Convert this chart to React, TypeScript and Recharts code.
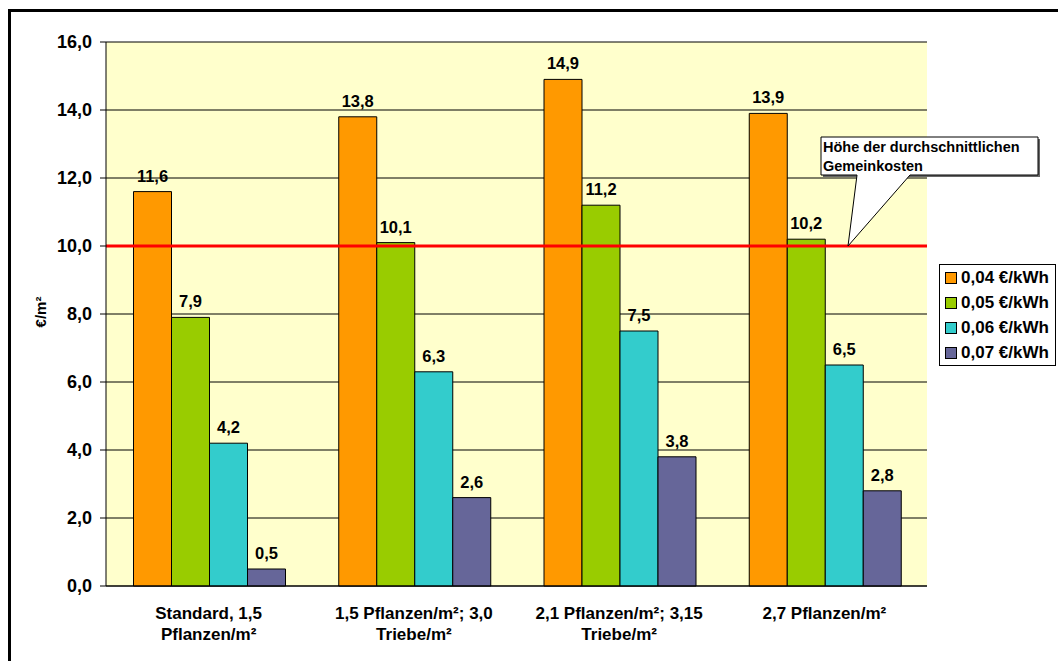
import React from 'react';
import { BarChart, Bar, XAxis, YAxis, CartesianGrid, ReferenceLine, LabelList, Legend } from 'recharts';

// Planting variants (x categories), split into the lines shown under the axis
const categoryLines: string[][] = [
  ['Standard, 1,5', 'Pflanzen/m²'],
  ['1,5 Pflanzen/m²; 3,0', 'Triebe/m²'],
  ['2,1 Pflanzen/m²; 3,15', 'Triebe/m²'],
  ['2,7 Pflanzen/m²'],
];

// Contribution margin in €/m² for each energy price
const price004 = [11.6, 13.8, 14.9, 13.9];
const price005 = [7.9, 10.1, 11.2, 10.2];
const price006 = [4.2, 6.3, 7.5, 6.5];
const price007 = [0.5, 2.6, 3.8, 2.8];

const seriesKeys = ['p004', 'p005', 'p006', 'p007'];
const seriesLabels = ['0,04 €/kWh', '0,05 €/kWh', '0,06 €/kWh', '0,07 €/kWh'];
const seriesColors = ['#FF9900', '#99CC00', '#33CCCC', '#666699'];

const yTicks = [0, 2, 4, 6, 8, 10, 12, 14, 16];
const categoryEdges = [0, 1, 2, 3, 4];

// Average overhead costs
const overheadLevel = 10;
const calloutLines = ['Höhe der durchschnittlichen', 'Gemeinkosten'];

const seriesValues = [price004, price005, price006, price007];
const data = categoryLines.map((lines, i) => {
  const row: Record<string, any> = { name: lines.join(' ') };
  seriesKeys.forEach((k, s) => {
    row[k] = seriesValues[s][i];
  });
  return row;
});

const FONT = '"Liberation Sans", Arial, Helvetica, sans-serif';
const fmt = (v: any) => Number(v).toFixed(1).replace('.', ',');

const CategoryTick = (props: any) => {
  const { x, y, index, payload } = props;
  const lines = categoryLines[index] ?? [String(payload?.value ?? '')];
  return (
    <text x={x} y={y} textAnchor="middle" fill="#000" fontSize={17} fontWeight={700} fontFamily={FONT}>
      {lines.map((l, i) => (
        <tspan key={i} x={x} dy={i === 0 ? 33 : 21}>
          {l}
        </tspan>
      ))}
    </text>
  );
};

const UnitLabel = () => (
  <text
    x={40}
    y={312}
    transform="rotate(-90 40 312)"
    textAnchor="middle"
    dominantBaseline="central"
    fill="#000"
    fontSize={15}
    fontWeight={700}
    fontFamily={FONT}
  >
    €/m²
  </text>
);

const Callout = (props: any) => {
  const vb = props.viewBox || {};
  const tipX = (vb.x ?? 0) + 742;
  const tipY = vb.y ?? 0;
  const left = tipX - 27;
  const right = tipX + 190;
  const top = tipY - 109;
  const bottom = tipY - 71;
  const d = `M${left},${top} H${right} V${bottom} H${tipX + 62} L${tipX},${tipY} L${tipX + 9},${bottom} H${left} Z`;
  return (
    <g>
      <rect x={left + 2} y={top + 2} width={right - left} height={bottom - top} fill="#666" />
      <path d={d} fill="#fff" stroke="#000" strokeWidth={1} />
      {calloutLines.map((l, i) => (
        <text
          key={i}
          x={left + 2}
          y={tipY - 94 + i * 18.5}
          fill="#000"
          fontSize={14.5}
          fontWeight={700}
          fontFamily={FONT}
        >
          {l}
        </text>
      ))}
    </g>
  );
};

const LegendBox = () => (
  <div
    style={{
      border: '1px solid #000',
      background: '#fff',
      width: 115,
      fontFamily: FONT,
      fontSize: 17,
      fontWeight: 700,
      color: '#000',
    }}
  >
    {seriesLabels.map((label, i) => (
      <div key={i} style={{ height: 25, display: 'flex', alignItems: 'center', whiteSpace: 'nowrap' }}>
        <span
          style={{
            display: 'inline-block',
            width: 10,
            height: 10,
            marginLeft: 5,
            marginRight: 4,
            background: seriesColors[i],
            border: '1px solid #000',
          }}
        />
        <span>{label}</span>
      </div>
    ))}
  </div>
);

export default function App() {
  return (
    <div
      style={{
        position: 'absolute',
        left: 0,
        top: 0,
        width: 1058,
        height: 661,
        overflow: 'hidden',
        background: '#fff',
        fontFamily: FONT,
      }}
    >
      <div
        style={{
          position: 'absolute',
          left: 8,
          top: 9,
          width: 1200,
          height: 800,
          border: '3px solid #000',
          boxSizing: 'border-box',
        }}
      />
      <div style={{ position: 'absolute', left: 0, top: 0 }}>
        <BarChart
          width={1058}
          height={661}
          data={data}
          margin={{ top: 42, right: 131, bottom: 0, left: 0 }}
          barCategoryGap="13.4%"
          barGap={0}
          style={{ fontFamily: FONT }}
        >
          <CartesianGrid vertical={false} stroke="#000" fill="#FFFFCC" fillOpacity={1} />
          <XAxis
            xAxisId="edges"
            type="number"
            domain={[0, 4]}
            ticks={categoryEdges}
            tick={false}
            tickSize={6}
            tickLine={{ stroke: '#000' }}
            axisLine={false}
            height={0}
          />
          <XAxis
            dataKey="name"
            interval={0}
            tick={<CategoryTick />}
            tickLine={false}
            tickSize={0}
            tickMargin={0}
            axisLine={{ stroke: '#000' }}
            height={75}
          />
          <XAxis
            xAxisId="top"
            orientation="top"
            dataKey="name"
            tick={false}
            tickLine={false}
            axisLine={{ stroke: '#808080' }}
            height={0}
          />
          <YAxis
            domain={[0, 16]}
            ticks={yTicks}
            interval={0}
            width={106}
            tickSize={6}
            tickMargin={8}
            tickFormatter={fmt}
            tick={{ fill: '#000', fontSize: 18, fontWeight: 700, fontFamily: FONT }}
            tickLine={{ stroke: '#000' }}
            axisLine={{ stroke: '#000' }}
            label={{ value: '€/m²', content: <UnitLabel /> }}
          />
          <YAxis
            yAxisId="right"
            orientation="right"
            domain={[0, 16]}
            tick={false}
            tickLine={false}
            axisLine={{ stroke: '#808080' }}
            width={0}
          />
          <Legend
            layout="vertical"
            align="center"
            verticalAlign="middle"
            content={<LegendBox />}
            wrapperStyle={{ position: 'absolute', left: 939, top: 264, width: 117, height: 102 }}
          />
          {seriesKeys.map((k, i) => (
            <Bar
              key={k}
              dataKey={k}
              name={seriesLabels[i]}
              fill={seriesColors[i]}
              stroke="#000"
              strokeWidth={1}
              isAnimationActive={false}
            >
              <LabelList
                dataKey={k}
                position="top"
                offset={10}
                formatter={fmt}
                fill="#000"
                fontSize={16.5}
                fontWeight={700}
                fontFamily={FONT}
              />
            </Bar>
          ))}
          <ReferenceLine y={overheadLevel} stroke="#FF0000" strokeWidth={3} label={<Callout />} />
        </BarChart>
      </div>
    </div>
  );
}
